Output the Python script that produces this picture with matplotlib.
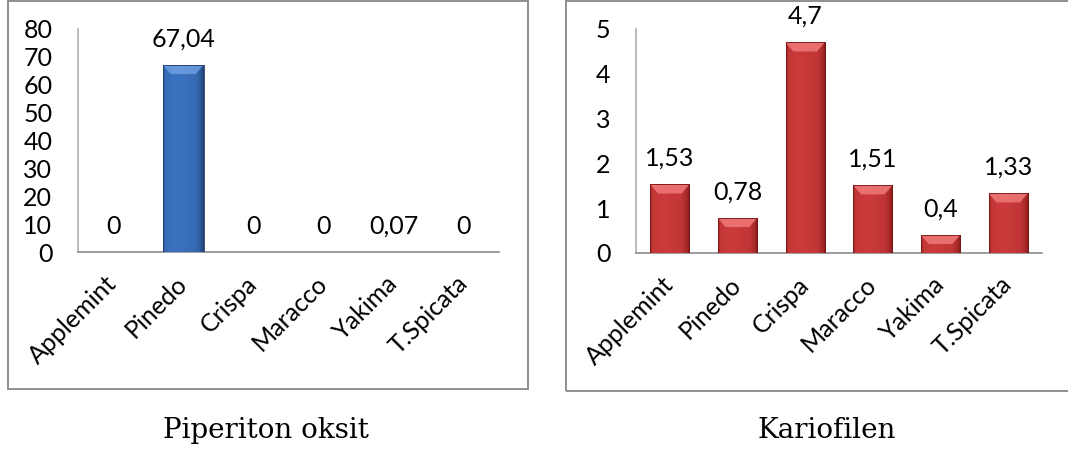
import numpy as np
import matplotlib
matplotlib.use("Agg")
import matplotlib.pyplot as plt
from matplotlib.patches import Rectangle, Polygon
from matplotlib.colors import to_rgb

# ---- data ----
categories = ["Applemint", "Pinedo", "Crispa", "Maracco", "Yakima", "T.Spicata"]
piperiton_values = [0, 67.04, 0, 0, 0.07, 0]
kariofilen_values = [1.53, 0.78, 4.7, 1.51, 0.4, 1.33]
piperiton_ticks = [0, 10, 20, 30, 40, 50, 60, 70, 80]
kariofilen_ticks = [0, 1, 2, 3, 4, 5]
titles = ["Piperiton oksit", "Kariofilen"]

W, H = 1068, 454
fig = plt.figure(figsize=(W / 100, H / 100), dpi=100)
fig.patch.set_facecolor("white")

SANS = ["Lato", "DejaVu Sans"]
SERIF = ["DejaVu Serif"]
FS = 18
AXIS_GREY = "#8c8c8c"


def px_axes(x0, y0, x1, y1):
    """Axes from pixel box (top-left origin)."""
    return fig.add_axes([x0 / W, (H - y1) / H, (x1 - x0) / W, (y1 - y0) / H])


def shaded_bar(ax, x, h, width, base, dark, light, px_h):
    """Bar with horizontal shading and a bevelled top."""
    if h <= 0:
        return
    bar = ax.bar(x, h, width=width, color=base, zorder=2, linewidth=0)[0]
    b = np.array(to_rgb(base))
    d = np.array(to_rgb(dark))
    # horizontal profile: dark edges, bright towards the left-centre
    u = np.linspace(0, 1, 64)
    prof = np.interp(u, [0, 0.06, 0.35, 0.8, 0.93, 1.0], [0.55, 0.1, 0.0, 0.15, 0.45, 0.9])
    row = b[None, :] * (1 - prof[:, None]) + d[None, :] * prof[:, None]
    img = np.repeat(row[None, :, :], 2, axis=0)
    im = ax.imshow(img, extent=(x - width / 2, x + width / 2, 0, h),
                   aspect="auto", zorder=3, interpolation="bilinear")
    im.set_clip_path(bar)
    # bevel at the top
    bev = min(9 * px_h, h)
    inset = width * 0.2
    poly = Polygon([(x - width / 2, h), (x + width / 2, h),
                    (x + width / 2 - inset, h - bev), (x - width / 2 + inset, h - bev)],
                   closed=True, facecolor=light, edgecolor="none", zorder=4, alpha=0.85)
    ax.add_patch(poly)
    # thin dark outline
    ax.add_patch(Rectangle((x - width / 2, 0), width, h, fill=False,
                           edgecolor=dark, linewidth=0.6, zorder=5))


def panel(box, values, ticks, base, dark, light, title, title_x):
    x0, y0, x1, y1 = box
    ax = px_axes(x0, y0, x1, y1)
    ymax = ticks[-1]
    ax.set_xlim(-0.5, len(categories) - 0.5)
    ax.set_ylim(0, ymax)
    px_h = ymax / (y1 - y0)
    for i, v in enumerate(values):
        shaded_bar(ax, i, v, 0.58, base, dark, light, px_h)
        ax.annotate(f"{v:g}".replace(".", ","), (i, v), xytext=(0, 18.7),
                    textcoords="offset points", ha="center", va="center",
                    fontsize=FS, family=SANS, color="black")
    ax.set_yticks(ticks)
    ax.set_yticklabels([str(t) for t in ticks], fontsize=FS, family=SANS)
    ax.set_xticks(range(len(categories)))
    ax.set_xticklabels(categories, rotation=45, ha="right", va="center",
                       rotation_mode="anchor", fontsize=FS, family=SANS)
    ax.tick_params(axis="y", length=0, pad=18.5)
    ax.tick_params(axis="x", length=0, pad=20)
    for s in ["top", "right"]:
        ax.spines[s].set_visible(False)
    for s in ["left", "bottom"]:
        ax.spines[s].set_color(AXIS_GREY)
        ax.spines[s].set_linewidth(1.2)
    ax.spines["left"].set_color("#b0b0b0")
    ax.set_facecolor("none")
    fig.text(title_x / W, 1 - 430 / H, title, ha="center", va="center",
             fontsize=20, family=SERIF, color="black")
    return ax


# frames around each chart
fig.patches.append(Rectangle((8 / W, 1 - 389 / H), 520 / W, 388.5 / H, transform=fig.transFigure,
                             fill=False, edgecolor="#8f8f8f", linewidth=1.4))
fig.patches.append(Rectangle((566 / W, 1 - 391 / H), 520 / W, 390.5 / H, transform=fig.transFigure,
                             fill=False, edgecolor="#8f8f8f", linewidth=1.4))

panel((78, 29, 499, 252), piperiton_values, piperiton_ticks,
      "#3b72c0", "#1c3a6a", "#6d9ee0", titles[0], 266)
panel((636, 29, 1042, 253), kariofilen_values, kariofilen_ticks,
      "#cc3b3b", "#7a1414", "#f07a7a", titles[1], 827)

fig.savefig("out.png", dpi=100, facecolor="white")
